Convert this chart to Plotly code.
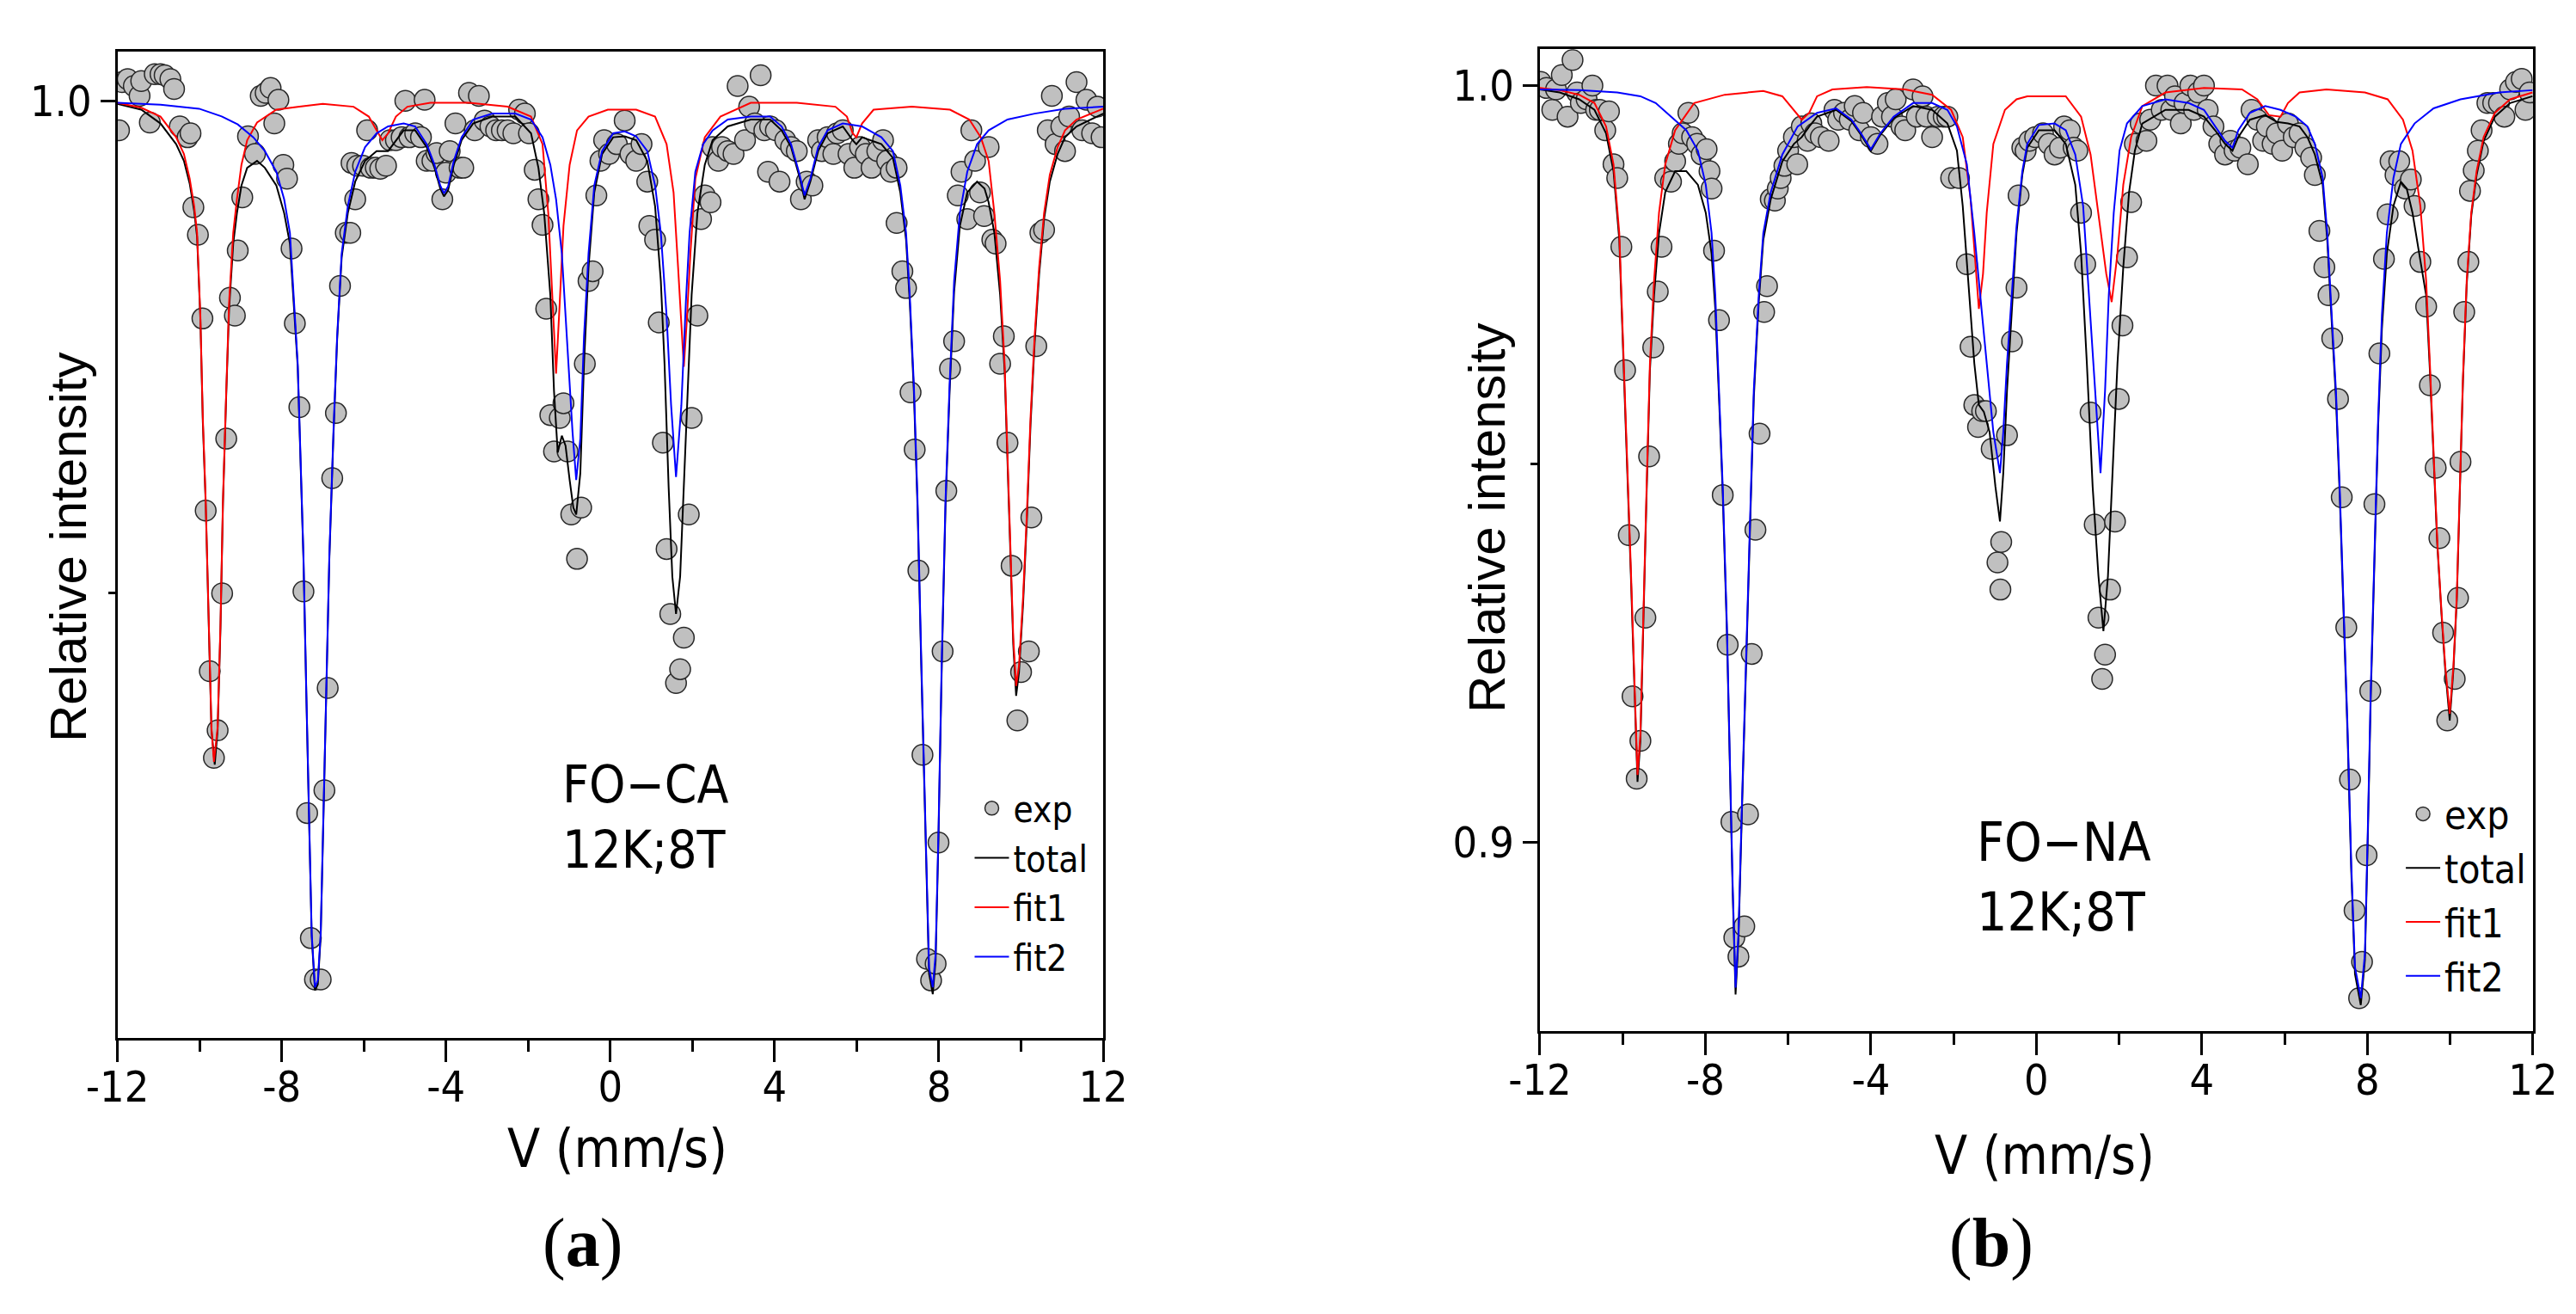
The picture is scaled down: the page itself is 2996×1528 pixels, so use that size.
import plotly.graph_objects as go
from plotly.subplots import make_subplots

# ---- panel (a) FO-CA ----
A_EXP = [
    (-11.96, 0.9970), (-11.89, 1.0019), (-11.75, 1.0022), (-11.60, 1.0015), (-11.46, 1.0005),
    (-11.42, 1.0020), (-11.21, 0.9978), (-11.09, 1.0027), (-10.95, 1.0027), (-10.85, 1.0026),
    (-10.71, 1.0022), (-10.62, 1.0012), (-10.48, 0.9974), (-10.29, 0.9963), (-10.22, 0.9967),
    (-10.15, 0.9892), (-10.04, 0.9864), (-9.93, 0.9779), (-9.85, 0.9584), (-9.75, 0.9421),
    (-9.65, 0.9333), (-9.56, 0.9361), (-9.45, 0.9500), (-9.35, 0.9657), (-9.26, 0.9800),
    (-9.14, 0.9782), (-9.07, 0.9848), (-8.96, 0.9902), (-8.82, 0.9964), (-8.65, 0.9946),
    (-8.51, 1.0005), (-8.39, 1.0008), (-8.27, 1.0013), (-8.18, 0.9977), (-8.08, 1.0001),
    (-7.96, 0.9935), (-7.87, 0.9921), (-7.76, 0.9850), (-7.68, 0.9774), (-7.57, 0.9689),
    (-7.47, 0.9502), (-7.38, 0.9277), (-7.29, 0.9150), (-7.19, 0.9108), (-7.05, 0.9108),
    (-6.96, 0.9300), (-6.88, 0.9404), (-6.77, 0.9617), (-6.68, 0.9683), (-6.58, 0.9812),
    (-6.44, 0.9866), (-6.33, 0.9866), (-6.30, 0.9937), (-6.21, 0.9900), (-6.16, 0.9934),
    (-6.02, 0.9934), (-5.92, 0.9970), (-5.83, 0.9932), (-5.71, 0.9932), (-5.60, 0.9931),
    (-5.46, 0.9934), (-5.36, 0.9960), (-5.22, 0.9960), (-5.08, 0.9963), (-4.99, 1.0000),
    (-4.89, 0.9963), (-4.75, 0.9967), (-4.61, 0.9963), (-4.52, 1.0001), (-4.47, 0.9939),
    (-4.33, 0.9939), (-4.23, 0.9947), (-4.09, 0.9900), (-4.00, 0.9927), (-3.91, 0.9949),
    (-3.77, 0.9977), (-3.67, 0.9932), (-3.58, 0.9932), (-3.44, 1.0008), (-3.30, 0.9970),
    (-3.20, 1.0005), (-3.06, 0.9980), (-2.92, 0.9974), (-2.78, 0.9970), (-2.64, 0.9970),
    (-2.50, 0.9970), (-2.36, 0.9967), (-2.22, 0.9991), (-2.08, 0.9987), (-1.98, 0.9967),
    (-1.84, 0.9930), (-1.75, 0.9900), (-1.65, 0.9874), (-1.56, 0.9789), (-1.46, 0.9681),
    (-1.37, 0.9644), (-1.23, 0.9678), (-1.14, 0.9693), (-1.04, 0.9644), (-0.95, 0.9580),
    (-0.81, 0.9535), (-0.71, 0.9587), (-0.62, 0.9733), (-0.53, 0.9817), (-0.43, 0.9827),
    (-0.34, 0.9904), (-0.24, 0.9939), (-0.15, 0.9960), (-0.03, 0.9946), (0.16, 0.9956),
    (0.35, 0.9980), (0.49, 0.9946), (0.63, 0.9939), (0.76, 0.9956), (0.90, 0.9918),
    (0.95, 0.9873), (1.09, 0.9859), (1.18, 0.9775), (1.28, 0.9653), (1.37, 0.9545),
    (1.46, 0.9479), (1.60, 0.9409), (1.70, 0.9423), (1.79, 0.9455), (1.91, 0.9580),
    (1.98, 0.9678), (2.12, 0.9782), (2.21, 0.9880), (2.30, 0.9904), (2.44, 0.9897),
    (2.49, 0.9953), (2.63, 0.9939), (2.72, 0.9953), (2.86, 0.9949), (3.00, 0.9946),
    (3.10, 1.0015), (3.28, 0.9960), (3.38, 0.9994), (3.52, 0.9977), (3.66, 1.0026),
    (3.75, 0.9970), (3.84, 0.9928), (3.89, 0.9974), (4.03, 0.9970), (4.12, 0.9918),
    (4.26, 0.9960), (4.40, 0.9953), (4.54, 0.9949), (4.64, 0.9900), (4.78, 0.9918),
    (4.92, 0.9914), (5.06, 0.9960), (5.15, 0.9949), (5.29, 0.9963), (5.43, 0.9946),
    (5.52, 0.9967), (5.66, 0.9970), (5.80, 0.9946), (5.94, 0.9932), (6.08, 0.9953),
    (6.22, 0.9946), (6.36, 0.9932), (6.50, 0.9949), (6.64, 0.9960), (6.74, 0.9939),
    (6.83, 0.9928), (6.97, 0.9932), (6.97, 0.9876), (7.11, 0.9827), (7.20, 0.9810),
    (7.31, 0.9704), (7.41, 0.9646), (7.50, 0.9523), (7.60, 0.9336), (7.71, 0.9129),
    (7.81, 0.9107), (7.92, 0.9124), (7.99, 0.9247), (8.09, 0.9441), (8.18, 0.9604),
    (8.27, 0.9728), (8.37, 0.9756), (8.46, 0.9904), (8.55, 0.9928), (8.69, 0.9880),
    (8.79, 0.9970), (8.88, 0.9939), (9.00, 0.9907), (9.10, 0.9883), (9.21, 0.9953),
    (9.30, 0.9859), (9.38, 0.9855), (9.49, 0.9733), (9.58, 0.9761), (9.67, 0.9653),
    (9.77, 0.9528), (9.91, 0.9371), (10.00, 0.9420), (10.19, 0.9441), (10.25, 0.9577),
    (10.37, 0.9751), (10.47, 0.9866), (10.56, 0.9869), (10.65, 0.9970), (10.75, 1.0005),
    (10.84, 0.9956), (10.98, 0.9974), (11.07, 0.9949), (11.17, 0.9984), (11.35, 1.0019),
    (11.49, 0.9970), (11.59, 1.0001), (11.73, 0.9967), (11.86, 0.9994), (11.96, 0.9963),
]

A_TOTAL = [
    (-12.00, 0.9997), (-11.42, 0.9991), (-10.95, 0.9977), (-10.57, 0.9956), (-10.38, 0.9939),
    (-10.24, 0.9916), (-10.13, 0.9888), (-10.06, 0.9862), (-9.98, 0.9779), (-9.92, 0.9674),
    (-9.85, 0.9591), (-9.77, 0.9465), (-9.71, 0.9361), (-9.63, 0.9326), (-9.56, 0.9361),
    (-9.49, 0.9465), (-9.43, 0.9591), (-9.35, 0.9702), (-9.28, 0.9789), (-9.18, 0.9855),
    (-9.09, 0.9886), (-8.98, 0.9914), (-8.84, 0.9932), (-8.60, 0.9939), (-8.41, 0.9932),
    (-8.13, 0.9914), (-7.94, 0.9886), (-7.80, 0.9855), (-7.71, 0.9796), (-7.61, 0.9730),
    (-7.55, 0.9646), (-7.47, 0.9535), (-7.40, 0.9396), (-7.33, 0.9256), (-7.27, 0.9152),
    (-7.19, 0.9097), (-7.12, 0.9103), (-7.05, 0.9152), (-6.99, 0.9256), (-6.91, 0.9396),
    (-6.84, 0.9535), (-6.74, 0.9660), (-6.65, 0.9758), (-6.54, 0.9841), (-6.39, 0.9886),
    (-6.21, 0.9918), (-5.97, 0.9939), (-5.69, 0.9949), (-5.41, 0.9949), (-5.03, 0.9970),
    (-4.75, 0.9970), (-4.47, 0.9953), (-4.28, 0.9932), (-4.14, 0.9911), (-4.05, 0.9903),
    (-3.95, 0.9909), (-3.81, 0.9935), (-3.62, 0.9960), (-3.34, 0.9977), (-2.87, 0.9984),
    (-2.31, 0.9984), (-1.93, 0.9967), (-1.75, 0.9932), (-1.61, 0.9886), (-1.46, 0.9803),
    (-1.37, 0.9705), (-1.28, 0.9643), (-1.18, 0.9660), (-1.09, 0.9650), (-0.99, 0.9615),
    (-0.90, 0.9587), (-0.83, 0.9580), (-0.73, 0.9622), (-0.64, 0.9733), (-0.53, 0.9831),
    (-0.39, 0.9907), (-0.20, 0.9946), (0.07, 0.9963), (0.35, 0.9964), (0.63, 0.9960),
    (0.90, 0.9939), (1.09, 0.9893), (1.23, 0.9817), (1.32, 0.9733), (1.42, 0.9608),
    (1.51, 0.9517), (1.60, 0.9479), (1.70, 0.9517), (1.79, 0.9608), (1.88, 0.9705),
    (1.98, 0.9803), (2.12, 0.9886), (2.30, 0.9935), (2.49, 0.9960), (2.86, 0.9974),
    (3.42, 0.9981), (3.89, 0.9981), (4.17, 0.9970), (4.40, 0.9953), (4.59, 0.9925),
    (4.73, 0.9900), (4.87, 0.9918), (5.06, 0.9949), (5.29, 0.9967), (5.66, 0.9974),
    (5.90, 0.9960), (5.99, 0.9956), (6.13, 0.9963), (6.60, 0.9956), (6.88, 0.9942),
    (7.06, 0.9907), (7.20, 0.9859), (7.29, 0.9796), (7.39, 0.9705), (7.48, 0.9587),
    (7.57, 0.9427), (7.67, 0.9253), (7.76, 0.9114), (7.85, 0.9093), (7.92, 0.9127),
    (7.99, 0.9253), (8.07, 0.9427), (8.16, 0.9587), (8.26, 0.9705), (8.37, 0.9806),
    (8.51, 0.9873), (8.69, 0.9907), (8.93, 0.9918), (9.11, 0.9911), (9.21, 0.9897),
    (9.35, 0.9866), (9.49, 0.9803), (9.60, 0.9726), (9.67, 0.9636), (9.75, 0.9531),
    (9.81, 0.9448), (9.88, 0.9396), (9.95, 0.9420), (10.05, 0.9490), (10.14, 0.9573),
    (10.23, 0.9671), (10.33, 0.9754), (10.44, 0.9824), (10.56, 0.9880), (10.70, 0.9918),
    (10.89, 0.9946), (11.07, 0.9963), (11.35, 0.9974), (12.00, 0.9987),
]

A_FIT1 = [
    (-12.00, 0.9998), (-11.42, 0.9993), (-10.95, 0.9984), (-10.57, 0.9963), (-10.38, 0.9946),
    (-10.24, 0.9921), (-10.13, 0.9893), (-10.06, 0.9866), (-9.98, 0.9782), (-9.92, 0.9678),
    (-9.85, 0.9594), (-9.77, 0.9469), (-9.71, 0.9364), (-9.65, 0.9329), (-9.56, 0.9364),
    (-9.49, 0.9469), (-9.43, 0.9594), (-9.35, 0.9705), (-9.28, 0.9796), (-9.18, 0.9866),
    (-9.09, 0.9900), (-8.98, 0.9935), (-8.84, 0.9960), (-8.60, 0.9978), (-8.13, 0.9991),
    (-7.57, 0.9994), (-7.00, 0.9997), (-6.25, 0.9994), (-5.88, 0.9984), (-5.69, 0.9970),
    (-5.55, 0.9960), (-5.41, 0.9967), (-5.22, 0.9984), (-4.94, 0.9994), (-4.38, 0.9998),
    (-3.44, 0.9998), (-2.50, 0.9994), (-1.93, 0.9984), (-1.65, 0.9956), (-1.51, 0.9886),
    (-1.41, 0.9803), (-1.32, 0.9723), (-1.23, 0.9796), (-1.14, 0.9873), (-0.99, 0.9935),
    (-0.81, 0.9970), (-0.53, 0.9984), (-0.06, 0.9991), (0.63, 0.9991), (1.09, 0.9984),
    (1.37, 0.9956), (1.54, 0.9907), (1.65, 0.9831), (1.74, 0.9768), (1.79, 0.9730),
    (1.86, 0.9775), (1.95, 0.9845), (2.07, 0.9921), (2.30, 0.9963), (2.68, 0.9984),
    (3.42, 0.9998), (4.54, 0.9998), (5.48, 0.9994), (5.76, 0.9984), (5.90, 0.9967),
    (5.99, 0.9963), (6.13, 0.9977), (6.41, 0.9991), (7.34, 0.9994), (8.27, 0.9991),
    (8.74, 0.9981), (9.02, 0.9963), (9.21, 0.9939), (9.35, 0.9886), (9.49, 0.9817),
    (9.60, 0.9733), (9.67, 0.9643), (9.75, 0.9538), (9.81, 0.9455), (9.88, 0.9406),
    (9.95, 0.9427), (10.05, 0.9497), (10.14, 0.9580), (10.23, 0.9678), (10.33, 0.9761),
    (10.44, 0.9831), (10.56, 0.9886), (10.70, 0.9925), (10.89, 0.9953), (11.07, 0.9970),
    (11.35, 0.9981), (12.00, 0.9992),
]

A_FIT2 = [
    (-12.00, 0.9998), (-10.95, 0.9996), (-10.01, 0.9992), (-9.45, 0.9984), (-9.07, 0.9976),
    (-8.69, 0.9963), (-8.41, 0.9949), (-8.13, 0.9928), (-7.94, 0.9900), (-7.80, 0.9866),
    (-7.71, 0.9803), (-7.61, 0.9733), (-7.55, 0.9650), (-7.47, 0.9538), (-7.40, 0.9399),
    (-7.33, 0.9260), (-7.27, 0.9155), (-7.19, 0.9100), (-7.12, 0.9107), (-7.05, 0.9155),
    (-6.99, 0.9260), (-6.91, 0.9399), (-6.84, 0.9538), (-6.74, 0.9664), (-6.65, 0.9761),
    (-6.54, 0.9845), (-6.39, 0.9893), (-6.21, 0.9928), (-5.97, 0.9953), (-5.69, 0.9967),
    (-5.41, 0.9974), (-5.03, 0.9977), (-4.75, 0.9974), (-4.47, 0.9956), (-4.28, 0.9935),
    (-4.14, 0.9914), (-4.05, 0.9906), (-3.95, 0.9913), (-3.81, 0.9939), (-3.62, 0.9963),
    (-3.34, 0.9981), (-2.87, 0.9987), (-2.31, 0.9987), (-1.93, 0.9981), (-1.65, 0.9963),
    (-1.46, 0.9935), (-1.32, 0.9900), (-1.18, 0.9845), (-1.04, 0.9747), (-0.92, 0.9664),
    (-0.83, 0.9615), (-0.73, 0.9657), (-0.64, 0.9761), (-0.53, 0.9845), (-0.39, 0.9914),
    (-0.20, 0.9949), (0.07, 0.9967), (0.35, 0.9969), (0.63, 0.9964), (0.90, 0.9949),
    (1.09, 0.9914), (1.23, 0.9866), (1.37, 0.9782), (1.48, 0.9691), (1.60, 0.9618),
    (1.73, 0.9691), (1.84, 0.9796), (1.93, 0.9866), (2.07, 0.9928), (2.26, 0.9956),
    (2.49, 0.9970), (2.86, 0.9981), (3.42, 0.9984), (3.89, 0.9984), (4.17, 0.9974),
    (4.40, 0.9956), (4.59, 0.9928), (4.73, 0.9904), (4.87, 0.9921), (5.06, 0.9953),
    (5.29, 0.9970), (5.66, 0.9977), (6.13, 0.9974), (6.60, 0.9963), (6.88, 0.9949),
    (7.06, 0.9914), (7.20, 0.9866), (7.29, 0.9803), (7.39, 0.9712), (7.48, 0.9594),
    (7.57, 0.9434), (7.67, 0.9260), (7.76, 0.9120), (7.85, 0.9100), (7.92, 0.9134),
    (7.99, 0.9260), (8.07, 0.9434), (8.16, 0.9594), (8.26, 0.9712), (8.37, 0.9817),
    (8.51, 0.9886), (8.69, 0.9928), (8.93, 0.9956), (9.21, 0.9970), (9.67, 0.9981),
    (10.33, 0.9987), (11.07, 0.9992), (12.00, 0.9994),
]

# ---- panel (b) FO-NA ----
B_EXP = [
    (-11.98, 1.0005), (-11.84, 0.9997), (-11.70, 0.9968), (-11.61, 0.9995), (-11.47, 1.0014),
    (-11.33, 0.9959), (-11.21, 1.0034), (-11.10, 0.9991), (-11.01, 0.9977), (-10.87, 0.9982),
    (-10.73, 1.0000), (-10.64, 0.9968), (-10.55, 0.9968), (-10.42, 0.9941), (-10.33, 0.9966),
    (-10.22, 0.9896), (-10.13, 0.9878), (-10.03, 0.9787), (-9.94, 0.9624), (-9.85, 0.9406),
    (-9.76, 0.9193), (-9.66, 0.9084), (-9.57, 0.9134), (-9.45, 0.9297), (-9.36, 0.9510),
    (-9.26, 0.9654), (-9.15, 0.9728), (-9.06, 0.9787), (-8.97, 0.9878), (-8.83, 0.9873),
    (-8.73, 0.9900), (-8.64, 0.9923), (-8.55, 0.9937), (-8.41, 0.9964), (-8.32, 0.9932),
    (-8.20, 0.9923), (-8.09, 0.9909), (-7.97, 0.9916), (-7.90, 0.9887), (-7.85, 0.9864),
    (-7.79, 0.9782), (-7.67, 0.9690), (-7.58, 0.9459), (-7.46, 0.9261), (-7.37, 0.9027),
    (-7.30, 0.8874), (-7.20, 0.8849), (-7.06, 0.8889), (-6.97, 0.9037), (-6.88, 0.9249),
    (-6.79, 0.9413), (-6.69, 0.9540), (-6.58, 0.9701), (-6.51, 0.9735), (-6.42, 0.9850),
    (-6.32, 0.9848), (-6.25, 0.9864), (-6.18, 0.9878), (-6.09, 0.9894), (-6.00, 0.9914),
    (-5.86, 0.9932), (-5.78, 0.9896), (-5.67, 0.9946), (-5.53, 0.9927), (-5.44, 0.9950),
    (-5.35, 0.9937), (-5.21, 0.9932), (-5.02, 0.9927), (-4.88, 0.9968), (-4.79, 0.9955),
    (-4.65, 0.9964), (-4.51, 0.9955), (-4.39, 0.9973), (-4.28, 0.9941), (-4.19, 0.9964),
    (-4.00, 0.9932), (-3.84, 0.9923), (-3.73, 0.9959), (-3.59, 0.9977), (-3.49, 0.9959),
    (-3.40, 0.9982), (-3.26, 0.9946), (-3.17, 0.9941), (-2.98, 0.9995), (-2.89, 0.9959),
    (-2.75, 0.9986), (-2.66, 0.9959), (-2.52, 0.9932), (-2.38, 0.9959), (-2.24, 0.9959),
    (-2.15, 0.9959), (-2.06, 0.9878), (-1.87, 0.9878), (-1.68, 0.9764), (-1.59, 0.9655),
    (-1.50, 0.9578), (-1.41, 0.9549), (-1.31, 0.9570), (-1.22, 0.9570), (-1.08, 0.9520),
    (-0.94, 0.9370), (-0.85, 0.9397), (-0.87, 0.9334), (-0.71, 0.9538), (-0.59, 0.9662),
    (-0.48, 0.9733), (-0.43, 0.9855), (-0.34, 0.9918), (-0.26, 0.9914), (-0.17, 0.9927),
    (-0.03, 0.9932), (0.16, 0.9937), (0.30, 0.9923), (0.44, 0.9909), (0.57, 0.9918),
    (0.67, 0.9946), (0.81, 0.9941), (0.90, 0.9918), (0.99, 0.9914), (1.08, 0.9832),
    (1.18, 0.9764), (1.31, 0.9568), (1.41, 0.9420), (1.50, 0.9297), (1.59, 0.9216),
    (1.66, 0.9248), (1.78, 0.9334), (1.90, 0.9424), (1.99, 0.9586), (2.08, 0.9683),
    (2.19, 0.9773), (2.29, 0.9846), (2.38, 0.9923), (2.52, 0.9950), (2.66, 0.9927),
    (2.75, 0.9955), (2.89, 1.0000), (3.03, 0.9968), (3.17, 1.0000), (3.26, 0.9968),
    (3.35, 0.9986), (3.49, 0.9950), (3.58, 0.9977), (3.72, 1.0000), (3.81, 0.9968),
    (3.91, 0.9991), (4.05, 1.0000), (4.14, 0.9968), (4.28, 0.9946), (4.42, 0.9923),
    (4.56, 0.9909), (4.69, 0.9927), (4.79, 0.9914), (4.93, 0.9918), (5.11, 0.9896),
    (5.20, 0.9968), (5.34, 0.9955), (5.48, 0.9927), (5.57, 0.9946), (5.71, 0.9923),
    (5.81, 0.9937), (5.94, 0.9914), (6.08, 0.9950), (6.22, 0.9932), (6.36, 0.9937),
    (6.50, 0.9918), (6.64, 0.9905), (6.73, 0.9882), (6.84, 0.9808), (6.96, 0.9760),
    (7.06, 0.9723), (7.15, 0.9666), (7.29, 0.9586), (7.38, 0.9456), (7.49, 0.9284),
    (7.58, 0.9083), (7.69, 0.8910), (7.80, 0.8794), (7.87, 0.8842), (7.98, 0.8983),
    (8.07, 0.9200), (8.17, 0.9447), (8.29, 0.9646), (8.40, 0.9771), (8.49, 0.9830),
    (8.56, 0.9900), (8.68, 0.9882), (8.77, 0.9900), (8.91, 0.9864), (9.05, 0.9876),
    (9.14, 0.9841), (9.28, 0.9767), (9.42, 0.9708), (9.51, 0.9604), (9.65, 0.9495),
    (9.74, 0.9402), (9.83, 0.9277), (9.93, 0.9161), (10.11, 0.9216), (10.19, 0.9323),
    (10.25, 0.9503), (10.34, 0.9701), (10.44, 0.9767), (10.48, 0.9861), (10.57, 0.9888),
    (10.67, 0.9914), (10.76, 0.9941), (10.90, 0.9977), (11.04, 0.9977), (11.18, 0.9977),
    (11.31, 0.9959), (11.45, 0.9995), (11.59, 1.0005), (11.73, 1.0009), (11.82, 0.9968),
    (11.92, 0.9991),
]

B_TOTAL = [
    (-12.00, 0.9995), (-11.52, 0.9991), (-11.05, 0.9982), (-10.68, 0.9968), (-10.40, 0.9937),
    (-10.22, 0.9887), (-10.08, 0.9796), (-9.99, 0.9660), (-9.89, 0.9506), (-9.80, 0.9352),
    (-9.71, 0.9198), (-9.64, 0.9080), (-9.57, 0.9134), (-9.50, 0.9297), (-9.42, 0.9461),
    (-9.34, 0.9624), (-9.24, 0.9723), (-9.12, 0.9805), (-8.97, 0.9859), (-8.73, 0.9887),
    (-8.46, 0.9887), (-8.18, 0.9869), (-7.99, 0.9832), (-7.85, 0.9778), (-7.76, 0.9705),
    (-7.67, 0.9587), (-7.58, 0.9461), (-7.48, 0.9279), (-7.41, 0.9098), (-7.34, 0.8935),
    (-7.27, 0.8799), (-7.20, 0.8871), (-7.11, 0.9053), (-7.02, 0.9234), (-6.93, 0.9415),
    (-6.83, 0.9587), (-6.71, 0.9714), (-6.60, 0.9796), (-6.42, 0.9850), (-6.14, 0.9900),
    (-5.86, 0.9923), (-5.67, 0.9932), (-5.49, 0.9946), (-5.30, 0.9959), (-4.84, 0.9968),
    (-4.47, 0.9953), (-4.24, 0.9935), (-4.00, 0.9914), (-3.77, 0.9935), (-3.45, 0.9957),
    (-2.98, 0.9973), (-2.52, 0.9968), (-2.15, 0.9950), (-1.92, 0.9914), (-1.78, 0.9841),
    (-1.64, 0.9742), (-1.50, 0.9633), (-1.39, 0.9578), (-1.27, 0.9569), (-1.13, 0.9542),
    (-0.99, 0.9470), (-0.88, 0.9424), (-0.80, 0.9488), (-0.71, 0.9597), (-0.59, 0.9705),
    (-0.48, 0.9805), (-0.34, 0.9882), (-0.22, 0.9918), (0.06, 0.9941), (0.44, 0.9941),
    (0.71, 0.9923), (0.94, 0.9869), (1.08, 0.9778), (1.22, 0.9633), (1.36, 0.9470),
    (1.50, 0.9352), (1.62, 0.9279), (1.73, 0.9352), (1.84, 0.9488), (1.96, 0.9633),
    (2.10, 0.9760), (2.24, 0.9859), (2.38, 0.9914), (2.56, 0.9950), (3.12, 0.9968),
    (3.68, 0.9968), (4.05, 0.9959), (4.32, 0.9941), (4.56, 0.9923), (4.74, 0.9914),
    (4.88, 0.9932), (5.16, 0.9955), (5.53, 0.9961), (5.81, 0.9952), (6.08, 0.9950),
    (6.36, 0.9946), (6.55, 0.9932), (6.73, 0.9909), (6.92, 0.9869), (7.03, 0.9796),
    (7.12, 0.9705), (7.24, 0.9587), (7.33, 0.9461), (7.43, 0.9297), (7.52, 0.9143),
    (7.61, 0.8962), (7.70, 0.8826), (7.84, 0.8785), (7.94, 0.8844), (8.01, 0.9007),
    (8.08, 0.9189), (8.17, 0.9370), (8.26, 0.9551), (8.35, 0.9678), (8.47, 0.9778),
    (8.63, 0.9841), (8.81, 0.9873), (8.95, 0.9864), (9.09, 0.9832), (9.28, 0.9769),
    (9.42, 0.9723), (9.51, 0.9624), (9.60, 0.9510), (9.69, 0.9393), (9.79, 0.9302),
    (9.88, 0.9229), (9.99, 0.9161), (10.08, 0.9229), (10.16, 0.9320), (10.23, 0.9465),
    (10.31, 0.9610), (10.40, 0.9737), (10.51, 0.9828), (10.64, 0.9882), (10.81, 0.9927),
    (11.08, 0.9959), (11.45, 0.9977), (11.99, 0.9986),
]

B_FIT1 = [
    (-12.00, 0.9997), (-11.52, 0.9994), (-11.05, 0.9988), (-10.68, 0.9977), (-10.40, 0.9946),
    (-10.22, 0.9896), (-10.08, 0.9805), (-9.99, 0.9669), (-9.89, 0.9515), (-9.80, 0.9361),
    (-9.71, 0.9207), (-9.64, 0.9089), (-9.57, 0.9143), (-9.50, 0.9306), (-9.42, 0.9470),
    (-9.34, 0.9633), (-9.24, 0.9742), (-9.12, 0.9832), (-8.97, 0.9896), (-8.73, 0.9941),
    (-8.27, 0.9977), (-7.53, 0.9988), (-6.60, 0.9993), (-6.14, 0.9986), (-5.86, 0.9968),
    (-5.67, 0.9955), (-5.49, 0.9964), (-5.30, 0.9986), (-4.93, 0.9995), (-4.10, 0.9998),
    (-3.17, 0.9995), (-2.52, 0.9988), (-2.06, 0.9968), (-1.78, 0.9932), (-1.59, 0.9850),
    (-1.48, 0.9769), (-1.39, 0.9705), (-1.29, 0.9751), (-1.20, 0.9832), (-1.04, 0.9923),
    (-0.76, 0.9968), (-0.48, 0.9982), (-0.22, 0.9986), (0.71, 0.9986), (1.08, 0.9959),
    (1.31, 0.9909), (1.50, 0.9832), (1.69, 0.9751), (1.82, 0.9714), (1.96, 0.9778),
    (2.10, 0.9869), (2.29, 0.9932), (2.56, 0.9973), (3.12, 0.9991), (4.05, 0.9997),
    (4.97, 0.9995), (5.34, 0.9982), (5.62, 0.9961), (5.90, 0.9959), (6.08, 0.9977),
    (6.36, 0.9991), (7.01, 0.9995), (7.94, 0.9991), (8.49, 0.9982), (8.86, 0.9955),
    (9.09, 0.9914), (9.28, 0.9841), (9.42, 0.9742), (9.51, 0.9633), (9.60, 0.9515),
    (9.69, 0.9397), (9.79, 0.9306), (9.88, 0.9234), (9.99, 0.9170), (10.08, 0.9234),
    (10.16, 0.9325), (10.23, 0.9470), (10.31, 0.9615), (10.40, 0.9742), (10.51, 0.9832),
    (10.64, 0.9887), (10.81, 0.9932), (11.08, 0.9964), (11.45, 0.9982), (11.99, 0.9991),
]

B_FIT2 = [
    (-12.00, 0.9995), (-11.05, 0.9994), (-10.13, 0.9991), (-9.57, 0.9986), (-9.20, 0.9977),
    (-8.83, 0.9959), (-8.46, 0.9941), (-8.18, 0.9914), (-7.99, 0.9869), (-7.85, 0.9805),
    (-7.76, 0.9723), (-7.67, 0.9597), (-7.58, 0.9470), (-7.48, 0.9288), (-7.41, 0.9107),
    (-7.34, 0.8944), (-7.27, 0.8808), (-7.20, 0.8880), (-7.11, 0.9062), (-7.02, 0.9243),
    (-6.93, 0.9424), (-6.83, 0.9597), (-6.71, 0.9723), (-6.60, 0.9805), (-6.42, 0.9859),
    (-6.14, 0.9909), (-5.77, 0.9946), (-5.30, 0.9964), (-4.84, 0.9970), (-4.47, 0.9955),
    (-4.24, 0.9937), (-4.00, 0.9916), (-3.77, 0.9937), (-3.45, 0.9959), (-2.98, 0.9977),
    (-2.52, 0.9977), (-2.15, 0.9968), (-1.92, 0.9946), (-1.68, 0.9896), (-1.50, 0.9805),
    (-1.31, 0.9696), (-1.17, 0.9615), (-1.04, 0.9542), (-0.88, 0.9488), (-0.80, 0.9542),
    (-0.71, 0.9633), (-0.59, 0.9723), (-0.48, 0.9814), (-0.34, 0.9887), (-0.22, 0.9923),
    (0.06, 0.9948), (0.44, 0.9950), (0.71, 0.9941), (0.94, 0.9909), (1.13, 0.9841),
    (1.27, 0.9723), (1.41, 0.9597), (1.55, 0.9488), (1.66, 0.9597), (1.75, 0.9723),
    (1.87, 0.9832), (2.01, 0.9914), (2.19, 0.9950), (2.56, 0.9973), (3.12, 0.9982),
    (3.68, 0.9977), (4.05, 0.9968), (4.32, 0.9946), (4.56, 0.9927), (4.74, 0.9918),
    (4.88, 0.9941), (5.16, 0.9964), (5.53, 0.9973), (5.90, 0.9968), (6.27, 0.9959),
    (6.55, 0.9946), (6.73, 0.9923), (6.92, 0.9878), (7.03, 0.9805), (7.12, 0.9714),
    (7.24, 0.9597), (7.33, 0.9470), (7.43, 0.9306), (7.52, 0.9152), (7.61, 0.8971),
    (7.70, 0.8835), (7.84, 0.8794), (7.94, 0.8853), (8.01, 0.9017), (8.08, 0.9198),
    (8.17, 0.9379), (8.26, 0.9560), (8.35, 0.9696), (8.47, 0.9805), (8.63, 0.9878),
    (8.81, 0.9923), (9.14, 0.9950), (9.60, 0.9970), (10.25, 0.9982), (11.18, 0.9991),
    (11.99, 0.9994),
]

X_TICKS = [-12, -8, -4, 0, 4, 8, 12]
X_TICK_TEXT = ["-12", "-8", "-4", "0", "4", "8", "12"]

NARROW = "Liberation Sans Narrow, Arial Narrow, DejaVu Sans Condensed, Liberation Sans, Arial"
SANS = "Liberation Sans, Arial, sans-serif"
SERIF = "Liberation Serif, Times New Roman, serif"


def xs(pts):
    return [p[0] for p in pts]


def ys(pts):
    return [p[1] for p in pts]


fig = make_subplots(rows=1, cols=2)

panels = [
    (1, "legend", A_EXP, A_TOTAL, A_FIT1, A_FIT2),
    (2, "legend2", B_EXP, B_TOTAL, B_FIT1, B_FIT2),
]
for col, leg, exp, total, fit1, fit2 in panels:
    fig.add_trace(go.Scatter(
        x=xs(exp), y=ys(exp), mode="markers", name="exp", legend=leg,
        marker=dict(size=24, color="rgb(192,192,192)",
                    line=dict(color="rgb(40,40,40)", width=1.5)),
    ), row=1, col=col)
    fig.add_trace(go.Scatter(x=xs(total), y=ys(total), mode="lines", name="total",
                             legend=leg, line=dict(color="black", width=2)),
                  row=1, col=col)
    fig.add_trace(go.Scatter(x=xs(fit1), y=ys(fit1), mode="lines", name="fit1",
                             legend=leg, line=dict(color="red", width=2)),
                  row=1, col=col)
    fig.add_trace(go.Scatter(x=xs(fit2), y=ys(fit2), mode="lines", name="fit2",
                             legend=leg, line=dict(color="blue", width=2)),
                  row=1, col=col)

x_common = dict(
    range=[-12, 12], tickvals=X_TICKS, ticktext=X_TICK_TEXT,
    showline=True, linecolor="black", linewidth=3, mirror=True,
    ticks="outside", ticklen=25, tickwidth=3, tickcolor="black",
    ticklabelstandoff=-14,
    minor=dict(dtick=2, tick0=0, ticks="outside", ticklen=13, tickwidth=3, tickcolor="black"),
    showgrid=False, zeroline=False, automargin=False,
    tickfont=dict(family=NARROW, size=50, color="black"),
)
y_common = dict(
    tick0=1.0, dtick=0.1, tickformat=".1f",
    showline=True, linecolor="black", linewidth=3, mirror=True,
    ticks="outside", ticklen=17, tickwidth=3, tickcolor="black",
    minor=dict(dtick=0.05, tick0=1.0, ticks="outside", ticklen=8, tickwidth=3, tickcolor="black"),
    showgrid=False, zeroline=False, automargin=False,
    tickfont=dict(family=NARROW, size=50, color="black"),
)

fig.update_layout(
    xaxis=dict(domain=[0.0429, 0.4256], **x_common),
    xaxis2=dict(domain=[0.5951, 0.9806], **x_common),
    yaxis=dict(domain=[0.2156, 0.9660], range=[0.9049, 1.0050], **y_common),
    yaxis2=dict(domain=[0.2208, 0.9677], range=[0.8751, 1.0048], **y_common),
    width=2996, height=1528,
    margin=dict(l=0, r=0, t=0, b=0),
    paper_bgcolor="white", plot_bgcolor="white",
    legend=dict(x=0.374, y=0.4123, xanchor="left", yanchor="top",
                bgcolor="rgba(0,0,0,0)", font=dict(family=NARROW, size=42, color="black"),
                itemwidth=40, tracegroupgap=0),
    legend2=dict(x=0.9296, y=0.4097, xanchor="left", yanchor="top",
                 bgcolor="rgba(0,0,0,0)", font=dict(family=NARROW, size=46, color="black"),
                 itemwidth=40, tracegroupgap=0),
    showlegend=True,
)

notes = [
    # text, x, y, size, family, anchor, angle
    ("FO\u2212CA", 0.2150, 0.4084, 60, NARROW, "left", 0),
    ("12K;8T", 0.2150, 0.3586, 60, NARROW, "left", 0),
    ("FO\u2212NA", 0.7640, 0.3645, 62, NARROW, "left", 0),
    ("12K;8T", 0.7640, 0.3109, 62, NARROW, "left", 0),
    ("Relative intensity", 0.0237, 0.589, 60, SANS, "center", -90),
    ("Relative intensity", 0.5748, 0.6113, 60, SANS, "center", -90),
    ("V (mm/s)", 0.2370, 0.1310, 62, NARROW, "center", 0),
    ("V (mm/s)", 0.7910, 0.1260, 62, NARROW, "center", 0),
    ("(<b>a</b>)", 0.2236, 0.0590, 80, SERIF, "center", 0),
    ("(<b>b</b>)", 0.7704, 0.0590, 80, SERIF, "center", 0),
]
for text, x, y, size, family, anchor, angle in notes:
    fig.add_annotation(text=text, x=x, y=y, xref="paper", yref="paper",
                       xanchor=anchor, yanchor="middle", textangle=angle,
                       showarrow=False, font=dict(family=family, size=size, color="black"))

fig.write_html("out.html")
